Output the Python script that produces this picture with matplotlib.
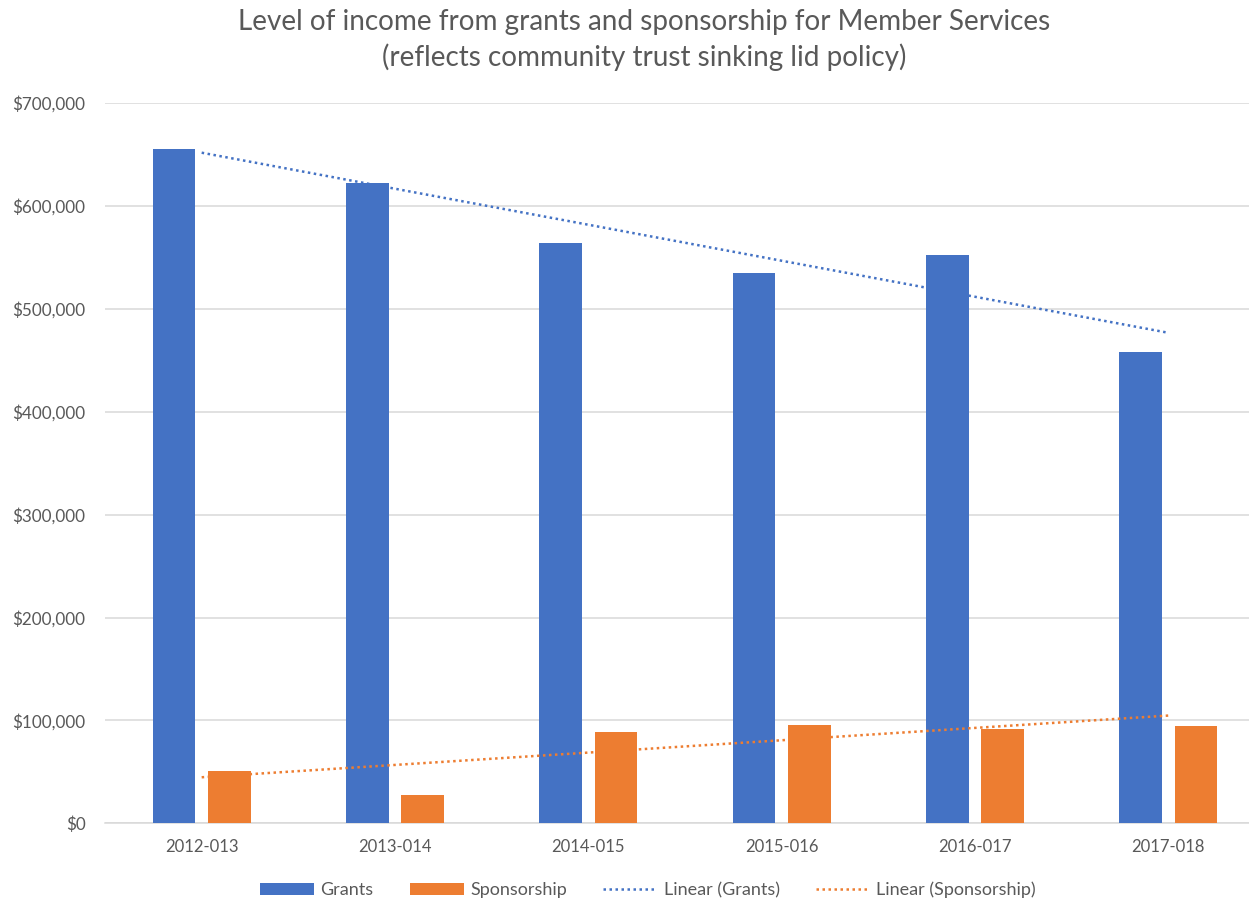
import numpy as np
import matplotlib
matplotlib.use("Agg")
import matplotlib.pyplot as plt
from matplotlib.ticker import FuncFormatter

plt.rcParams['font.family'] = ['Lato', 'DejaVu Sans']

# data
years = ["2012-013", "2013-014", "2014-015", "2015-016", "2016-017", "2017-018"]
grants = [655000, 622000, 563500, 535000, 552000, 457700]
sponsorship = [50800, 27200, 88700, 95200, 91600, 94800]

blue = "#4472C4"
orange = "#ED7D31"
grey_text = "#595959"
grid_col = "#D9D9D9"

fig = plt.figure(figsize=(12.49, 9.02), dpi=100)
ax = fig.add_axes([105 / 1249, 78.7 / 902, 1160 / 1249, 720.3 / 902])

x = np.arange(len(years))
w = 0.22
off = 0.1436
b1 = ax.bar(x - off, grants, width=w, color=blue, label="Grants", zorder=3)
b2 = ax.bar(x + off, sponsorship, width=w, color=orange, label="Sponsorship", zorder=3)

# Excel-style linear trendlines (least squares on category index)
xs = x + 1
trends = []
for vals, col, name in [(grants, blue, "Linear (Grants)"),
                        (sponsorship, orange, "Linear (Sponsorship)")]:
    m, b = np.polyfit(xs, vals, 1)
    ln, = ax.plot(x, m * xs + b, color=col, lw=1.8, linestyle=(0, (1, 1.4)),
                  dash_capstyle="butt", label=name, zorder=4)
    trends.append(ln)

ax.set_xlim(-0.5, len(years) - 0.5)
ax.set_ylim(0, 700000)
ax.set_yticks(np.arange(0, 700001, 100000))
ax.yaxis.set_major_formatter(FuncFormatter(lambda v, p: f"${v:,.0f}"))
ax.set_xticks(x)
ax.set_xticklabels(years)

ax.grid(axis="y", color=grid_col, lw=1.1, zorder=0)
for s in ["top", "right", "left"]:
    ax.spines[s].set_visible(False)
ax.spines["bottom"].set_color(grid_col)
ax.spines["bottom"].set_linewidth(1.1)
ax.tick_params(axis="y", length=0, labelsize=12.3, labelcolor=grey_text, pad=14)
ax.tick_params(axis="x", length=0, labelsize=12, labelcolor=grey_text, pad=11)

fig.text(644 / 1249, 1 - 40 / 902,
         "Level of income from grants and sponsorship for Member Services\n"
         "(reflects community trust sinking lid policy)",
         ha="center", va="center", fontsize=20.1, color=grey_text, linespacing=1.38)

handles = [b1, b2] + trends
leg = fig.legend(handles, [h.get_label() for h in handles],
                 loc="center", bbox_to_anchor=(648 / 1249, 1 - 890 / 902), ncol=4,
                 frameon=False, fontsize=13, handlelength=3.0, handletextpad=0.35,
                 columnspacing=2.0)
for t in leg.get_texts():
    t.set_color(grey_text)

fig.savefig("out.png", dpi=100)
